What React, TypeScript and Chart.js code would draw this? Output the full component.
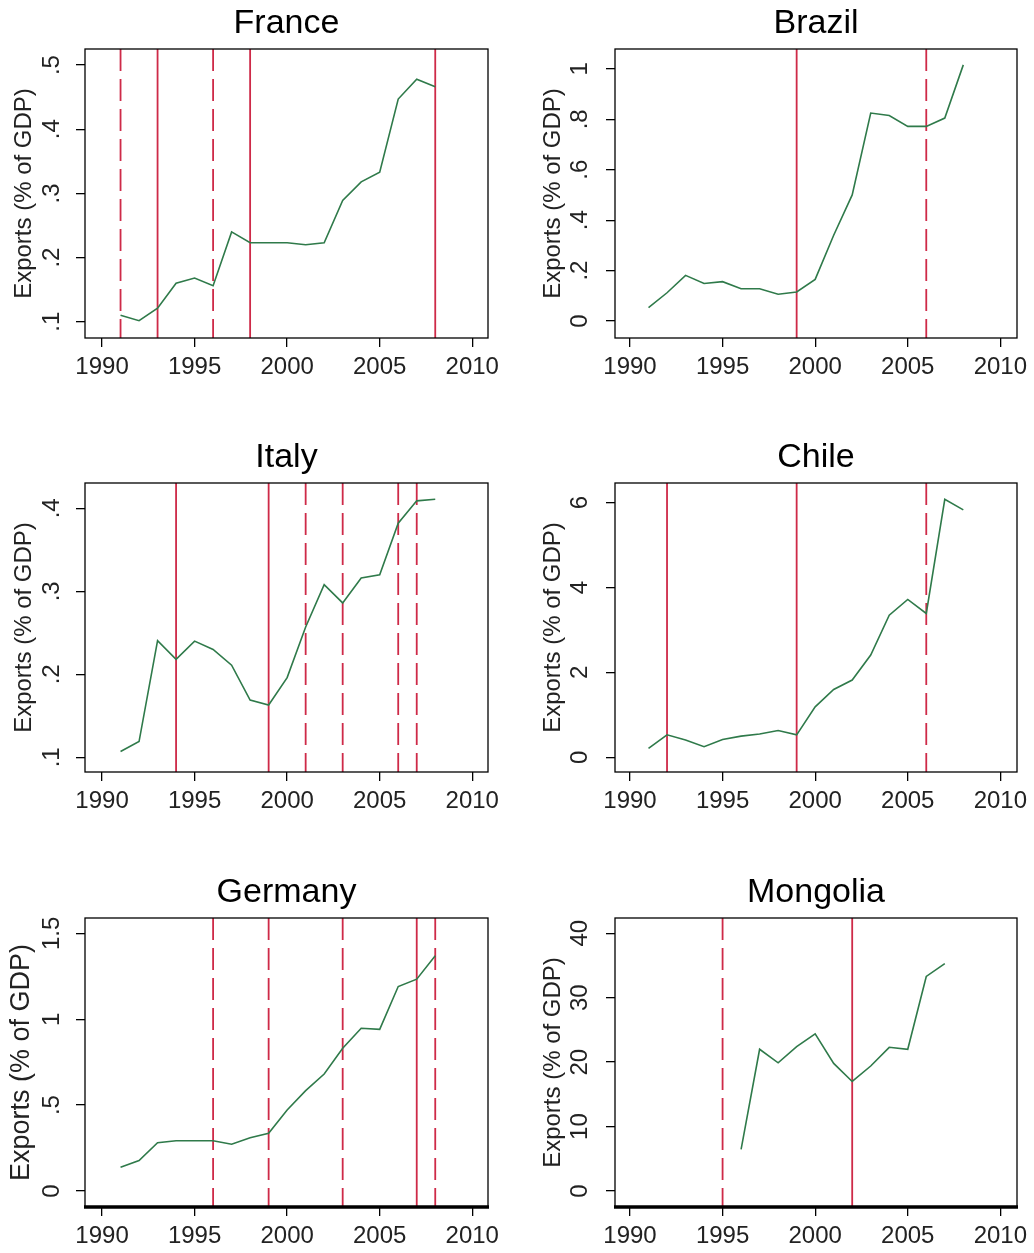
import React, { useEffect, useRef } from "react";
import { Chart, registerables } from "chart.js";

Chart.register(...registerables);

// ---------- DATA ----------
const yearsFull = [1991, 1992, 1993, 1994, 1995, 1996, 1997, 1998, 1999, 2000, 2001, 2002, 2003, 2004, 2005, 2006, 2007, 2008];
const yearsMongolia = [1996, 1997, 1998, 1999, 2000, 2001, 2002, 2003, 2004, 2005, 2006, 2007];

const franceExports = [0.110, 0.1015, 0.121, 0.160, 0.168, 0.156, 0.240, 0.223, 0.223, 0.223, 0.220, 0.223, 0.289, 0.318, 0.333, 0.447, 0.478, 0.466];
const brazilExports = [0.053, 0.112, 0.181, 0.149, 0.156, 0.128, 0.128, 0.106, 0.115, 0.165, 0.34, 0.50, 0.825, 0.815, 0.772, 0.772, 0.805, 1.016];
const italyExports = [0.107, 0.119, 0.2406, 0.218, 0.240, 0.230, 0.211, 0.169, 0.163, 0.196, 0.257, 0.308, 0.286, 0.316, 0.320, 0.382, 0.409, 0.411];
const chileExports = [0.21, 0.53, 0.41, 0.25, 0.42, 0.50, 0.55, 0.63, 0.53, 1.19, 1.60, 1.82, 2.41, 3.35, 3.72, 3.39, 6.08, 5.83];
const germanyExports = [0.138, 0.177, 0.281, 0.293, 0.293, 0.293, 0.272, 0.31, 0.336, 0.472, 0.584, 0.681, 0.831, 0.947, 0.941, 1.19, 1.233, 1.369];
const mongoliaExports = [6.47, 22.0, 19.9, 22.4, 24.4, 19.8, 17.0, 19.4, 22.3, 22.0, 33.3, 35.3];

const franceSolid = [1993, 1998, 2008];
const franceDashed = [1991, 1996];
const brazilSolid = [1999];
const brazilDashed = [2006];
const italySolid = [1994, 1999];
const italyDashed = [2001, 2003, 2006, 2007];
const chileSolid = [1992, 1999];
const chileDashed = [2006];
const germanySolid = [2007];
const germanyDashed = [1996, 1999, 2003, 2008];
const mongoliaSolid = [2002];
const mongoliaDashed = [1995];

const xTicks = [1990, 1995, 2000, 2005, 2010];
const xTickLabels = ["1990", "1995", "2000", "2005", "2010"];

const franceYTicks = [0.1, 0.2, 0.3, 0.4, 0.5];
const franceYLabels = [".1", ".2", ".3", ".4", ".5"];
const brazilYTicks = [0, 0.2, 0.4, 0.6, 0.8, 1];
const brazilYLabels = ["0", ".2", ".4", ".6", ".8", "1"];
const italyYTicks = [0.1, 0.2, 0.3, 0.4];
const italyYLabels = [".1", ".2", ".3", ".4"];
const chileYTicks = [0, 2, 4, 6];
const chileYLabels = ["0", "2", "4", "6"];
const germanyYTicks = [0, 0.5, 1, 1.5];
const germanyYLabels = ["0", ".5", "1", "1.5"];
const mongoliaYTicks = [0, 10, 20, 30, 40];
const mongoliaYLabels = ["0", "10", "20", "30", "40"];

const yAxisTitle = "Exports (% of GDP)";

// ---------- STYLE / LAYOUT ----------
const FONT = '"Liberation Sans", Arial, Helvetica, sans-serif';
const GREEN = "#2F7A4A";
const RED = "#CE2A48";
const TICK_COLOR = "#222";
const TICK_LEN = 9;
const TITLE_SIZE = 34;
const TITLE_GAP = 8.5;
const X_AXIS_H = 60;

const COLS = [
  { canvasLeft: 0, boxLeft: 85, boxRight: 488, yTickCenter: 52.5, yTitleCenter: 24.7, xMin: 1989.08, xMax: 2010.85 },
  { canvasLeft: 517, boxLeft: 615, boxRight: 1017, yTickCenter: 580, yTitleCenter: 553, xMin: 1989.19, xMax: 2010.9 },
];
const ROWS = [
  { canvasTop: 0, canvasH: 420, boxTop: 49, boxBottom: 338, bottomWidth: 1.3 },
  { canvasTop: 420, canvasH: 420, boxTop: 483, boxBottom: 772, bottomWidth: 1.3 },
  { canvasTop: 840, canvasH: 413, boxTop: 918, boxBottom: 1207, bottomWidth: 3.5 },
];
const CANVAS_W = 517;

type PanelDef = {
  title: string;
  years: number[];
  values: number[];
  solid: number[];
  dashed: number[];
  yTicks: number[];
  yLabels: string[];
  yMin: number;
  yMax: number;
  col: number;
  row: number;
  yTitleSize?: number;
  yTitleCenter?: number;
};

const PANELS: PanelDef[] = [
  { title: "France", years: yearsFull, values: franceExports, solid: franceSolid, dashed: franceDashed, yTicks: franceYTicks, yLabels: franceYLabels, yMin: 0.0746, yMax: 0.525, col: 0, row: 0 },
  { title: "Brazil", years: yearsFull, values: brazilExports, solid: brazilSolid, dashed: brazilDashed, yTicks: brazilYTicks, yLabels: brazilYLabels, yMin: -0.0675, yMax: 1.079, col: 1, row: 0 },
  { title: "Italy", years: yearsFull, values: italyExports, solid: italySolid, dashed: italyDashed, yTicks: italyYTicks, yLabels: italyYLabels, yMin: 0.0823, yMax: 0.4305, col: 0, row: 1 },
  { title: "Chile", years: yearsFull, values: chileExports, solid: chileSolid, dashed: chileDashed, yTicks: chileYTicks, yLabels: chileYLabels, yMin: -0.346, yMax: 6.464, col: 1, row: 1 },
  { title: "Germany", years: yearsFull, values: germanyExports, solid: germanySolid, dashed: germanyDashed, yTicks: germanyYTicks, yLabels: germanyYLabels, yMin: -0.093, yMax: 1.589, col: 0, row: 2, yTitleSize: 27, yTitleCenter: 22 },
  { title: "Mongolia", years: yearsMongolia, values: mongoliaExports, solid: mongoliaSolid, dashed: mongoliaDashed, yTicks: mongoliaYTicks, yLabels: mongoliaYLabels, yMin: -2.48, yMax: 42.37, col: 1, row: 2 },
];

function measureWidest(labels: string[], size: number): number {
  const c = document.createElement("canvas").getContext("2d");
  if (!c) return 0;
  c.font = `normal ${size}px ${FONT}`;
  return Math.max(...labels.map((l) => c.measureText(l).width));
}

const framePlugin = {
  id: "frame",
  afterDatasetsDraw(chart: any, _args: any, opts: any) {
    const { ctx, chartArea: a } = chart;
    ctx.save();
    ctx.strokeStyle = "#000";
    ctx.lineWidth = 1.3;
    ctx.strokeRect(a.left, a.top, a.right - a.left, a.bottom - a.top);
    if (opts && opts.bottomWidth > 1.3) {
      ctx.lineWidth = opts.bottomWidth;
      ctx.beginPath();
      ctx.moveTo(a.left - 1, a.bottom);
      ctx.lineTo(a.right + 1, a.bottom);
      ctx.stroke();
    }
    ctx.restore();
  },
};

function Panel({ p }: { p: PanelDef }) {
  const ref = useRef<HTMLCanvasElement | null>(null);
  const col = COLS[p.col];
  const row = ROWS[p.row];

  useEffect(() => {
    if (!ref.current) return;
    const yWidth = col.boxLeft - col.canvasLeft;
    const tickSize = 24;
    const widest = measureWidest(p.yLabels, tickSize);
    const yTickPad = yWidth - (col.yTickCenter - col.canvasLeft) - TICK_LEN - widest / 2;
    const yTitleSize = p.yTitleSize ?? 24;
    const yTitleCenter = p.yTitleCenter ?? col.yTitleCenter;
    const yTitlePad = yTitleCenter - col.canvasLeft - yTitleSize / 2;

    const titleH = TITLE_SIZE + TITLE_GAP;
    const padTop = row.boxTop - row.canvasTop - titleH;
    const padBottom = row.canvasTop + row.canvasH - row.boxBottom - X_AXIS_H;
    const padRight = col.canvasLeft + CANVAS_W - col.boxRight;

    const datasets: any[] = [
      {
        data: p.years.map((yr, i) => ({ x: yr, y: p.values[i] })),
        borderColor: GREEN,
        borderWidth: 1.6,
        pointRadius: 0,
        tension: 0,
        fill: false,
      },
    ];
    p.solid.forEach((yr) =>
      datasets.push({
        data: [{ x: yr, y: p.yMax }, { x: yr, y: p.yMin }],
        borderColor: RED,
        borderWidth: 1.8,
        pointRadius: 0,
        fill: false,
      })
    );
    p.dashed.forEach((yr) =>
      datasets.push({
        data: [{ x: yr, y: p.yMax }, { x: yr, y: p.yMin }],
        borderColor: RED,
        borderWidth: 1.8,
        borderDash: [22, 8],
        pointRadius: 0,
        fill: false,
      })
    );

    const chart = new Chart(ref.current, {
      type: "line",
      data: { datasets },
      plugins: [framePlugin as any],
      options: {
        animation: false,
        responsive: false,
        maintainAspectRatio: false,
        layout: { padding: { left: 0, right: padRight, top: padTop, bottom: padBottom } },
        plugins: {
          legend: { display: false },
          tooltip: { enabled: false },
          title: {
            display: true,
            text: p.title,
            fullSize: false,
            color: "#000",
            font: { family: FONT, size: TITLE_SIZE, weight: "normal", lineHeight: 1 },
            padding: { top: 0, bottom: TITLE_GAP },
          },
          frame: { bottomWidth: row.bottomWidth },
        } as any,
        scales: {
          x: {
            type: "linear",
            min: col.xMin,
            max: col.xMax,
            afterBuildTicks: (axis: any) => {
              axis.ticks = xTicks.map((v) => ({ value: v }));
            },
            afterFit: (axis: any) => {
              axis.height = X_AXIS_H;
            },
            ticks: {
              autoSkip: false,
              maxRotation: 0,
              minRotation: 0,
              padding: 6,
              color: TICK_COLOR,
              font: { family: FONT, size: tickSize },
              callback: (_v: any, i: number) => xTickLabels[i],
            },
            grid: {
              drawOnChartArea: false,
              drawTicks: true,
              tickLength: TICK_LEN,
              color: "#000",
              lineWidth: 1.3,
            },
            border: { display: false },
          },
          y: {
            type: "linear",
            min: p.yMin,
            max: p.yMax,
            afterBuildTicks: (axis: any) => {
              axis.ticks = p.yTicks.map((v) => ({ value: v }));
            },
            afterFit: (axis: any) => {
              axis.width = yWidth;
            },
            ticks: {
              autoSkip: false,
              minRotation: 90,
              maxRotation: 90,
              crossAlign: "center",
              padding: yTickPad,
              color: TICK_COLOR,
              font: { family: FONT, size: tickSize },
              callback: (_v: any, i: number) => p.yLabels[i],
            },
            grid: {
              drawOnChartArea: false,
              drawTicks: true,
              tickLength: TICK_LEN,
              color: "#000",
              lineWidth: 1.3,
            },
            border: { display: false },
            title: {
              display: true,
              text: yAxisTitle,
              color: TICK_COLOR,
              font: { family: FONT, size: yTitleSize, lineHeight: 1 },
              padding: { top: yTitlePad, bottom: 0 },
            },
          },
        },
      } as any,
    });
    return () => chart.destroy();
  }, []);

  return (
    <canvas
      ref={ref}
      width={CANVAS_W}
      height={row.canvasH}
      style={{ position: "absolute", left: col.canvasLeft, top: row.canvasTop, width: CANVAS_W, height: row.canvasH }}
    />
  );
}

export default function App() {
  return (
    <div style={{ position: "absolute", left: 0, top: 0, width: 1034, height: 1253, background: "#fff", overflow: "hidden" }}>
      {PANELS.map((p) => (
        <Panel key={p.title} p={p} />
      ))}
    </div>
  );
}
